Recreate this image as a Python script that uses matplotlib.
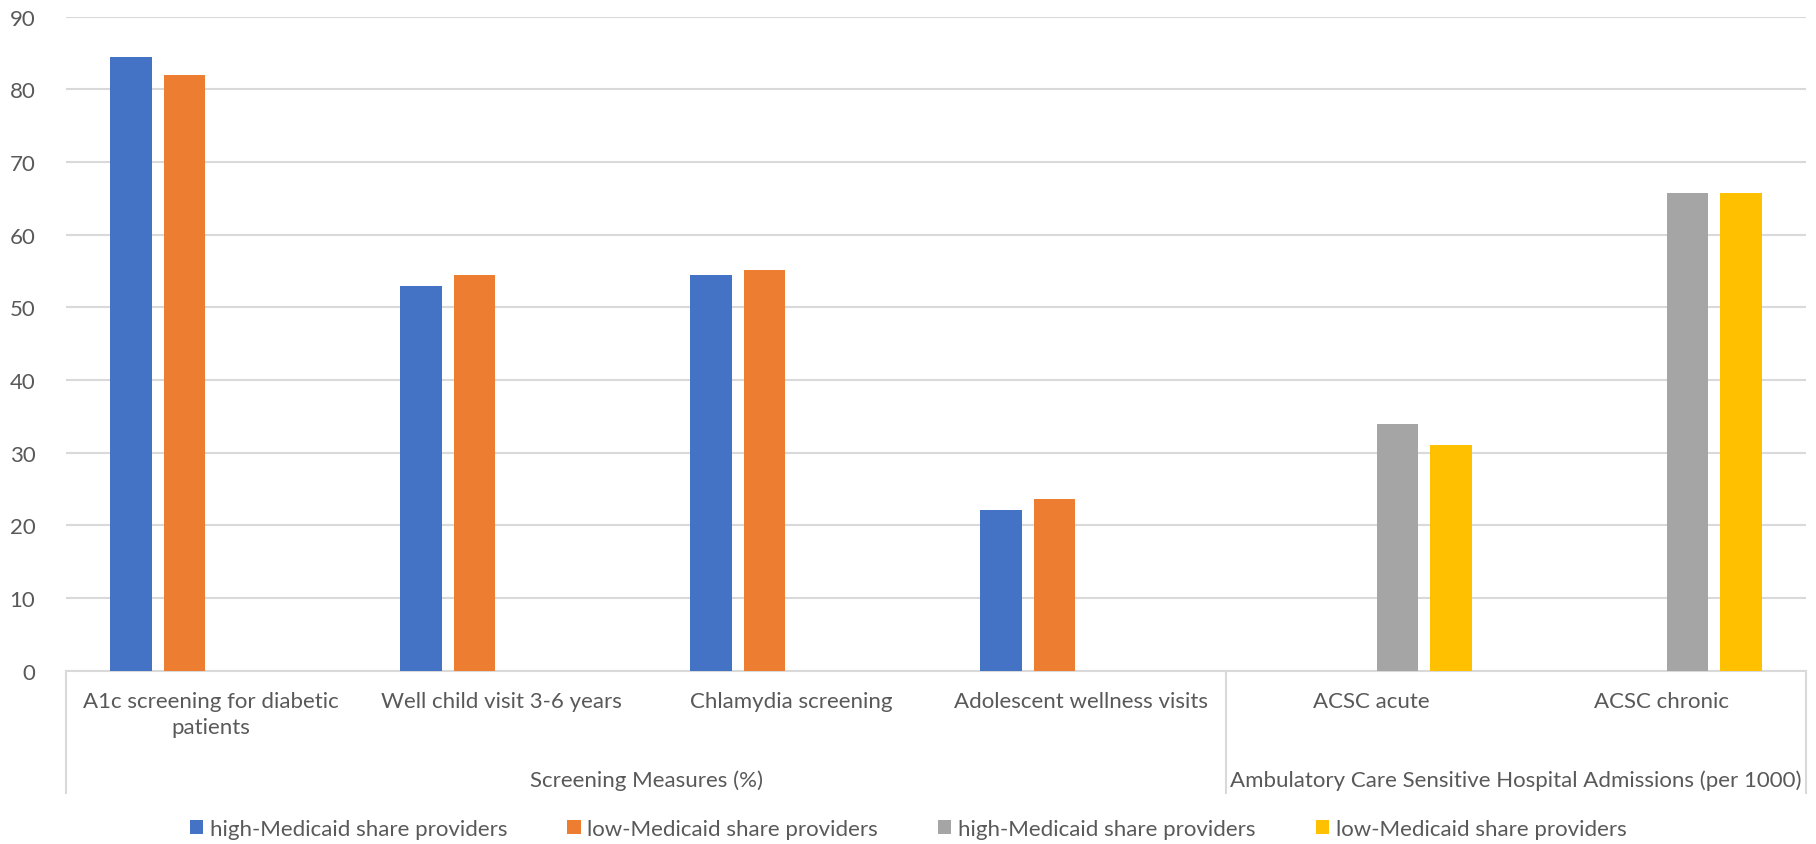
import matplotlib.pyplot as plt
import matplotlib.transforms as mtransforms
import numpy as np

plt.rcParams['font.family'] = ['Lato', 'DejaVu Sans']

categories = ['A1c screening for diabetic\npatients', 'Well child visit 3-6 years',
              'Chlamydia screening', 'Adolescent wellness visits',
              'ACSC acute', 'ACSC chronic']
groups = ['Screening Measures (%)',
          'Ambulatory Care Sensitive Hospital Admissions (per 1000)']
group_sizes = [4, 2]

# screening measures (%) - first four categories
screen_high = [84.5, 53.0, 54.5, 22.1, np.nan, np.nan]
screen_low = [82.0, 54.5, 55.1, 23.6, np.nan, np.nan]
# hospital admissions per 1000 - last two categories
acsc_high = [np.nan, np.nan, np.nan, np.nan, 34.0, 65.7]
acsc_low = [np.nan, np.nan, np.nan, np.nan, 31.0, 65.7]

series = [screen_high, screen_low, acsc_high, acsc_low]
labels = ['high-Medicaid share providers', 'low-Medicaid share providers',
          'high-Medicaid share providers', 'low-Medicaid share providers']
colors = ['#4472C4', '#ED7D31', '#A5A5A5', '#FFC000']

txt = '#595959'
grid = '#D9D9D9'
fs = 16

fig = plt.figure(figsize=(18.16, 8.45), dpi=100)
ax = fig.add_axes([66 / 1816, 0.205, 1740 / 1816, 0.774])

x = np.arange(len(categories))
width = 0.1437
step = 0.1836
for i, (vals, lab, col) in enumerate(zip(series, labels, colors)):
    offs = (i - 1.5) * step
    ax.bar(x + offs, np.nan_to_num(vals), width, color=col, label=lab, zorder=3)

ax.set_xlim(-0.5, len(categories) - 0.5)
ax.set_ylim(0, 90)
ax.set_yticks(np.arange(0, 91, 10))
ax.tick_params(axis='y', length=0, labelsize=fs, labelcolor=txt, pad=22)
ax.set_xticks([])
ax.grid(axis='y', color=grid, linewidth=1.5, zorder=0)
for s in ['top', 'right', 'left']:
    ax.spines[s].set_visible(False)
ax.spines['bottom'].set_color(grid)
ax.spines['bottom'].set_linewidth(1.5)

# two-level category axis
tr = mtransforms.blended_transform_factory(ax.transData, ax.transAxes)
for xi, cat in zip(x, categories):
    ax.text(xi, -0.031, cat, transform=tr, ha='center', va='top',
            fontsize=fs, color=txt, linespacing=1.35)

edges = [-0.5]
for n in group_sizes:
    edges.append(edges[-1] + n)
for e in edges:
    ax.plot([e, e], [0, -0.187], transform=tr, color=grid, lw=1.5, clip_on=False)
for g, a, b in zip(groups, edges[:-1], edges[1:]):
    ax.text((a + b) / 2, -0.167, g, transform=tr, ha='center', va='center',
            fontsize=fs, color=txt)

fig.legend(loc='center', bbox_to_anchor=(0.5, 0.018), ncol=4, frameon=False,
           fontsize=fs, labelcolor=txt, handlelength=0.6, handleheight=0.6,
           handletextpad=0.3, columnspacing=2.7)

fig.savefig('out.png', dpi=100)
